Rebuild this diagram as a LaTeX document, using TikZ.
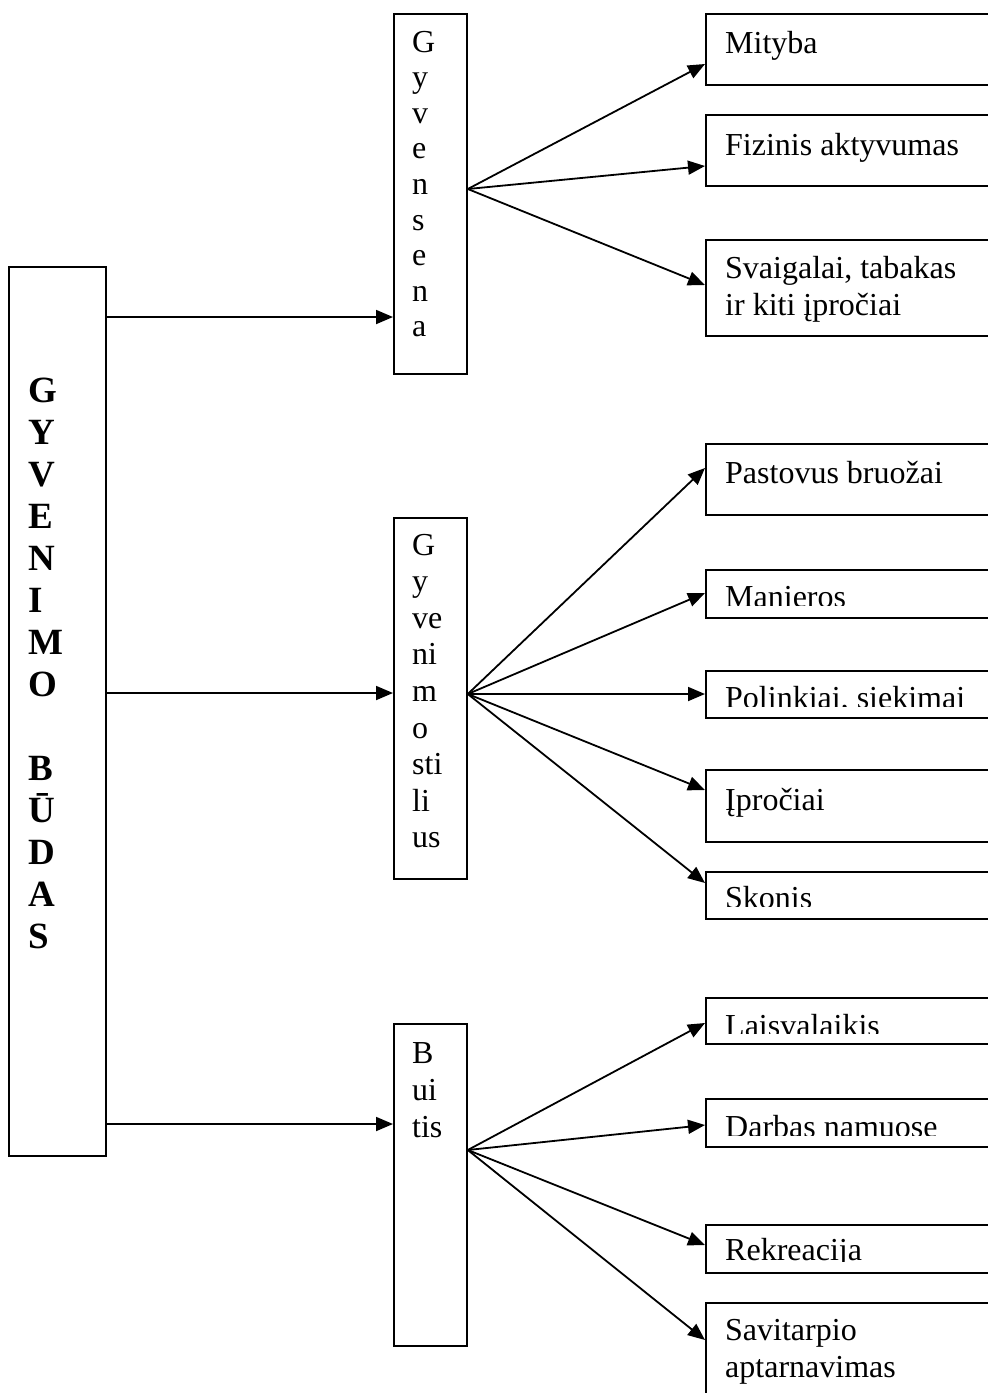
\documentclass[tikz,border=0pt]{standalone}
\usepackage{fontspec}
\setmainfont{Liberation Serif}
\usetikzlibrary{arrows.meta}
\tikzset{
  box/.style={draw, line width=1.8pt, inner sep=0pt, anchor=north west},
  rbox/.style={box, minimum width=330pt},
  arr/.style={line width=1.8pt, -{Triangle[length=17pt,width=14pt]}},
  lbl/.style={anchor=base west, inner sep=0pt, font=\fontsize{32}{37}\selectfont},
}
\newcommand\vstk[1]{\begin{tabular}[t]{@{}l@{}}#1\end{tabular}}
\begin{document}
\begin{tikzpicture}[x=1pt,y=-1pt]
\useasboundingbox (0,0) rectangle (988,1393);
\clip (0,0) rectangle (988,1393);

% main box
\node[box, minimum width=97pt, minimum height=889pt] (main) at (8,266) {};
\node[anchor=base west, inner sep=0pt, font=\fontsize{37}{42}\selectfont\bfseries] (tmain) at (28,402)
  {\vstk{G\\Y\\V\\E\\N\\I\\M\\O\\ \\B\\Ū\\D\\A\\S}};

% middle boxes
\node[box, minimum width=73pt, minimum height=360pt] (gyv) at (393,13) {};
\node[anchor=base west, inner sep=0pt, font=\fontsize{32}{35.6}\selectfont] (tgyv) at (412,52)
  {\vstk{G\\y\\v\\e\\n\\s\\e\\n\\a}};
\node[box, minimum width=73pt, minimum height=361pt] (stil) at (393,517) {};
\node[anchor=base west, inner sep=0pt, font=\fontsize{32}{36.6}\selectfont] (tstil) at (412,555)
  {\vstk{G\\y\\ve\\ni\\m\\o\\sti\\li\\us}};
\node[box, minimum width=73pt, minimum height=322pt] (buit) at (393,1023) {};
\node[anchor=base west, inner sep=0pt, font=\fontsize{32}{37}\selectfont] (tbuit) at (412,1063)
  {\vstk{B\\ui\\tis}};

% right boxes
\node[rbox, minimum height=71pt] (mit) at (705,13) {};
\node[rbox, minimum height=71pt] (fiz) at (705,114) {};
\node[rbox, minimum height=96pt] (sva) at (705,239) {};
\node[rbox, minimum height=71pt] (pas) at (705,443) {};
\node[rbox, minimum height=48pt] (man) at (705,569) {};
\node[rbox, minimum height=47pt] (pol) at (705,670) {};
\node[rbox, minimum height=72pt] (ipr) at (705,769) {};
\node[rbox, minimum height=47pt] (sko) at (705,871) {};
\node[rbox, minimum height=46pt] (lai) at (705,997) {};
\node[rbox, minimum height=48pt] (dar) at (705,1098) {};
\node[rbox, minimum height=48pt] (rek) at (705,1224) {};
\node[rbox, minimum height=150pt] (sav) at (705,1302) {};

% texts in right boxes
\node[lbl] (tmit) at (725,53) {Mityba};
\node[lbl] (tfiz) at (725,155) {Fizinis aktyvumas};
\node[lbl] (tsva) at (725,278) {Svaigalai, tabakas};
\node[lbl] (tsva2) at (725,315) {ir kiti įpročiai};
\node[lbl] (tpas) at (725,483) {Pastovus bruožai};
\node[lbl] (tipr) at (725,810) {Įpročiai};
\node[lbl] (tsav) at (725,1340) {Savitarpio};
\node[lbl] (tsav2) at (725,1377) {aptarnavimas};
\begin{scope}
  \clip (man.north west) rectangle ([yshift=13pt]man.south east);
  \node[lbl] (tman) at (725,607) {Manieros};
\end{scope}
\begin{scope}
  \clip (pol.north west) rectangle ([yshift=12pt]pol.south east);
  \node[lbl] (tpol) at (725,708) {Polinkiai, siekimai};
\end{scope}
\begin{scope}
  \clip (sko.north west) rectangle ([yshift=13pt]sko.south east);
  \node[lbl] (tsko) at (725,908) {Skonis};
\end{scope}
\begin{scope}
  \clip (lai.north west) rectangle ([yshift=11pt]lai.south east);
  \node[lbl] (tlai) at (725,1036) {Laisvalaikis};
\end{scope}
\begin{scope}
  \clip (dar.north west) rectangle ([yshift=12pt]dar.south east);
  \node[lbl] (tdar) at (725,1137) {Darbas namuose};
\end{scope}
\begin{scope}
  \clip (rek.north west) rectangle ([yshift=12pt]rek.south east);
  \node[lbl] (trek) at (725,1260) {Rekreacija};
\end{scope}

% connectors from main
\coordinate (in1) at (gyv.west |- 0,317);
\coordinate (in2) at (stil.west |- 0,693);
\coordinate (in3) at (buit.west |- 0,1124);
\draw[arr] (main.east |- in1) -- (in1);
\draw[arr] (main.east |- in2) -- (in2);
\draw[arr] (main.east |- in3) -- (in3);

% fans
\coordinate (o1) at (gyv.east |- 0,189);
\coordinate (o2) at (stil.east |- 0,694);
\coordinate (o3) at (buit.east |- 0,1150);
\draw[arr] (o1) -- (mit.west |- 0,64);
\draw[arr] (o1) -- (fiz.west |- 0,166);
\draw[arr] (o1) -- (sva.west |- 0,285);
\draw[arr] (o2) -- (pas.west |- 0,468);
\draw[arr] (o2) -- (man.west |- 0,593);
\draw[arr] (o2) -- (pol.west |- 0,694);
\draw[arr] (o2) -- (ipr.west |- 0,790);
\draw[arr] (o2) -- (sko.west |- 0,883);
\draw[arr] (o3) -- (lai.west |- 0,1023);
\draw[arr] (o3) -- (dar.west |- 0,1125);
\draw[arr] (o3) -- (rek.west |- 0,1245);
\draw[arr] (o3) -- (sav.west |- 0,1340);
\end{tikzpicture}
\end{document}
